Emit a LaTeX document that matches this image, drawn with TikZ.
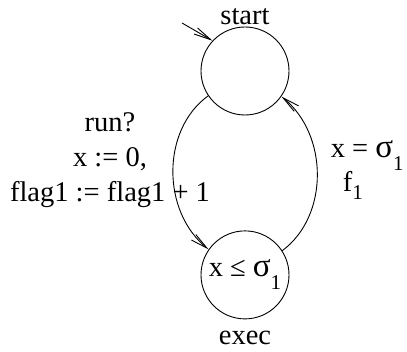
\documentclass[tikz,border=0pt]{standalone}
\usepackage{fontspec}
\setmainfont{Liberation Serif}
\usetikzlibrary{arrows.meta, positioning}
\newcommand{\lowsub}[2][10pt]{\lower#1\hbox{\fontsize{21}{21}\selectfont #2}}
\newcommand{\bigsig}{{\fontsize{33}{33}\selectfont σ}}

\begin{document}
\begin{tikzpicture}[
        x=1pt, y=-1pt,
        line width=0.9pt,
        node distance=115pt,
        every node/.style={font=\fontsize{28.5}{35}\selectfont},
        state/.style={draw, circle, minimum size=88pt, inner sep=0pt},
        >={Straight Barb[length=17pt, width=7pt]}
    ]
        \clip (0,0) rectangle (407,352);
        \node[state, label={[label distance=-2pt]above:start}] (start) at (245,71) {};
        \node[state, below=of start, label={[label distance=8pt]below:exec}] (exec) {x ≤ \bigsig\lowsub[13pt]{1}};
        \coordinate (init) at (182,23);

        \node[align=center] (upd) at (110,160) {run?\\x := 0,\\flag1 := flag1 + 1};
        \node[anchor=base west] (guard) at (327,158) {x = \bigsig\lowsub[13pt]{1}};
        \node[anchor=base west] (reset) at (339,192) {f\lowsub[8pt]{1}};

        \draw[->] (init) -- (start.137);
        \draw[->] (start.214) .. controls +(-47,34) and +(-47,-38) .. (exec.145);
        \draw[->] (exec.33) .. controls +(47,-35) and +(47,38) .. (start.325);
    \end{tikzpicture}
\end{document}
